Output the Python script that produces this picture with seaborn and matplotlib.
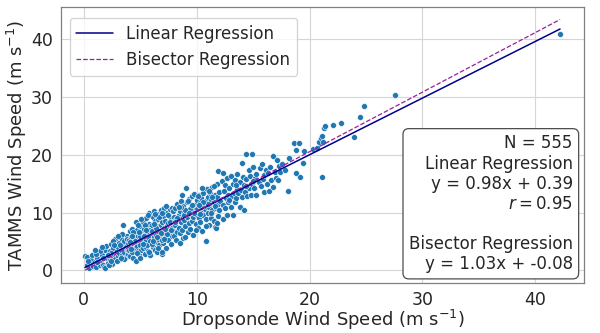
import numpy as np
import pandas as pd
import matplotlib
matplotlib.use('Agg')
import matplotlib.pyplot as plt
import seaborn as sns

# dropsonde (x) vs TAMMS (y) wind speed
pts_a = [(0.1, 2.4), (0.3, 1.0), (0.26, 2.3), (0.5, 0.4), (0.6, 1.8), (0.8, 0.8), (0.9, 2.9), (1.0, 1.5),
         (1.1, 0.5), (1.2, 2.2), (1.3, 3.1), (1.4, 1.0), (1.5, 1.8), (1.6, 2.7), (1.7, 0.9), (1.8, 0.5),
         (1.9, 0.35), (1.9, 3.6), (2.0, 2.1), (2.0, 4.2), (2.1, 1.3), (2.2, 2.8), (2.3, 3.4), (2.3, 1.8),
         (2.4, 4.6), (2.5, 2.4), (2.5, 1.1), (2.6, 3.9), (2.7, 2.9), (2.8, 5.4), (2.8, 1.9), (2.9, 3.3),
         (3.0, 4.1), (3.0, 2.5), (3.1, 4.8), (3.1, 3.0), (3.2, 1.9), (3.3, 5.6), (3.3, 3.6), (3.4, 2.7),
         (3.5, 7.8), (3.5, 4.4), (3.6, 3.2), (3.6, 5.1), (3.7, 2.3), (3.7, 4.0), (3.8, 6.0), (3.8, 3.5),
         (3.9, 4.7), (3.9, 2.8), (1.4, 3.4), (0.7, 2.6), (2.6, 5.0), (3.4, 6.3), (2.2, 0.9), (1.1, 2.9),
         (2.9, 1.6), (3.2, 4.4), (3.0, 5.9), (1.7, 2.2), (2.4, 3.0), (3.6, 1.9), (0.4, 1.6), (1.2, 1.4),
         (1.6, 4.1), (2.1, 2.6), (2.7, 4.4), (3.3, 2.1), (3.8, 5.4), (1.0, 3.6), (2.4, 1.6), (3.9, 3.5)]

pts_b = [(4.0, 5.3), (4.0, 3.6), (4.1, 6.8), (4.1, 2.4), (4.2, 4.5), (4.2, 5.8), (4.3, 3.1), (4.3, 7.2),
         (4.4, 4.9), (4.4, 2.1), (4.5, 6.2), (4.5, 3.8), (4.6, 8.4), (4.65, 1.6), (4.6, 5.5), (4.7, 4.2),
         (4.7, 7.0), (4.8, 3.3), (4.8, 6.0), (4.9, 5.0), (4.9, 2.7), (5.0, 7.6), (5.0, 4.4), (5.1, 6.5),
         (5.1, 3.6), (5.2, 3.9), (5.2, 5.6), (5.2, 8.3), (5.3, 4.8), (5.3, 7.1), (5.4, 2.9), (5.4, 6.1),
         (5.5, 9.1), (5.5, 5.2), (5.5, 4.0), (5.6, 7.5), (5.6, 6.6), (5.7, 3.4), (5.7, 5.8), (5.8, 10.0),
         (5.8, 8.0), (5.8, 4.6), (5.9, 6.9), (5.9, 2.6), (6.0, 5.3), (6.0, 7.8), (6.1, 9.3), (6.1, 4.1),
         (6.1, 6.4), (6.2, 10.2), (6.2, 5.7), (6.3, 3.6), (6.3, 8.5), (6.3, 7.0), (6.4, 4.9), (6.4, 6.1),
         (6.5, 9.7), (6.5, 3.2), (6.5, 7.6), (6.6, 5.5), (6.6, 8.9), (6.7, 6.7), (6.7, 4.3), (6.8, 10.4),
         (6.8, 7.9), (6.8, 5.9), (6.9, 2.9), (6.9, 8.3), (6.95, 3.1), (7.0, 6.4), (7.0, 9.4), (7.0, 4.8),
         (7.1, 7.3), (7.1, 10.7), (7.2, 5.6), (7.2, 8.6), (7.3, 6.9), (7.3, 3.9), (7.4, 9.9), (7.4, 7.7),
         (7.5, 5.2), (7.5, 8.1), (7.6, 10.6), (7.6, 6.5), (7.7, 4.6), (7.7, 9.0), (7.8, 10.7), (7.8, 7.4),
         (7.8, 5.9), (7.9, 8.5), (7.9, 6.8), (5.0, 5.9), (5.6, 4.3), (6.0, 6.8), (6.4, 7.3), (6.9, 5.3),
         (7.4, 6.2), (4.5, 5.0), (4.8, 7.8), (5.3, 5.9), (6.2, 8.0), (6.7, 9.3), (7.2, 7.1), (7.5, 9.6),
         (5.9, 5.0), (4.2, 3.7), (4.1, 4.9), (4.4, 6.6), (4.7, 3.0), (5.0, 2.2), (5.1, 8.9), (5.4, 7.8),
         (5.7, 9.5), (5.8, 3.1), (6.0, 4.6), (6.3, 9.8), (6.6, 3.9), (6.9, 9.9), (7.1, 5.4), (7.3, 11.2),
         (7.6, 8.3), (7.9, 10.2), (4.9, 6.7), (5.5, 6.9), (6.1, 5.0), (6.8, 6.4), (7.7, 7.0), (4.3, 5.9),
         (5.2, 4.6), (6.5, 5.8)]

pts_c = [(8.0, 9.3), (8.0, 6.0), (8.1, 10.8), (8.1, 7.8), (8.2, 5.2), (8.2, 8.9), (8.3, 11.5), (8.3, 6.7),
         (8.4, 9.6), (8.4, 7.4), (8.5, 4.8), (8.5, 6.4), (8.5, 10.3), (8.6, 8.3), (8.6, 12.0), (8.7, 9.0),
         (8.7, 7.0), (8.8, 11.1), (8.8, 5.6), (8.9, 8.7), (8.9, 10.0), (9.0, 7.6), (9.06, 14.2), (9.1, 11.8),
         (9.1, 9.3), (9.2, 6.6), (9.2, 10.5), (9.3, 8.1), (9.3, 12.3), (9.4, 9.8), (9.4, 7.2), (9.5, 11.0),
         (9.5, 10.2), (9.6, 8.6), (9.6, 12.8), (9.7, 9.2), (9.7, 6.1), (9.8, 13.2), (9.8, 10.7), (9.9, 8.0),
         (9.9, 11.4), (10.0, 9.6), (10.0, 12.1), (10.1, 7.3), (10.1, 10.9), (10.2, 13.0), (10.2, 9.0),
         (10.3, 11.6), (10.3, 8.4), (10.4, 12.5), (10.4, 10.1), (10.5, 6.8), (10.5, 11.2), (10.6, 9.5),
         (10.6, 13.4), (10.85, 5.1), (10.7, 10.6), (10.8, 12.0), (10.8, 8.8), (10.9, 11.0), (10.9, 14.0),
         (11.0, 9.9), (11.0, 12.7), (11.1, 7.9), (11.1, 10.9), (11.2, 13.3), (11.2, 11.6), (11.3, 9.1),
         (11.3, 12.2), (11.4, 14.4), (11.4, 10.4), (11.5, 11.9), (11.5, 8.6), (11.6, 7.5), (11.6, 13.0),
         (11.7, 7.4), (11.7, 10.8), (11.8, 12.6), (11.8, 15.0), (11.9, 11.4), (11.9, 9.4), (8.3, 9.1),
         (8.9, 9.5), (9.4, 10.6), (10.0, 10.6), (10.4, 11.0), (11.0, 11.4), (9.0, 10.4), (8.6, 10.9),
         (9.8, 9.9), (10.6, 11.9), (11.4, 12.6), (8.1, 8.4), (8.4, 11.0), (8.7, 13.0), (9.0, 5.7),
         (9.3, 9.9), (9.6, 11.3), (9.9, 6.9), (10.1, 12.9), (10.3, 9.8), (10.5, 14.3), (10.8, 7.6),
         (11.1, 13.8), (11.3, 10.0), (11.6, 11.1), (11.8, 8.2), (9.2, 12.0), (10.2, 11.3), (11.5, 14.6)]

pts_d = [(11.9, 17.2), (12.0, 13.6), (12.0, 10.4), (12.1, 12.0), (12.2, 15.5), (12.3, 16.8), (12.3, 8.8),
         (12.3, 11.3), (12.4, 13.8), (12.5, 14.7), (12.5, 10.8), (12.6, 12.5), (12.7, 9.5), (12.7, 15.9),
         (12.8, 13.1), (12.8, 11.9), (12.9, 14.3), (13.0, 10.9), (13.0, 16.3), (13.1, 12.8), (13.2, 9.5),
         (13.2, 14.9), (13.3, 13.4), (13.4, 11.8), (13.4, 15.6), (13.5, 12.5), (13.6, 14.1), (13.6, 16.6),
         (13.7, 13.3), (13.8, 11.0), (13.8, 15.2), (13.9, 13.9), (14.0, 18.5), (14.0, 12.6), (14.1, 16.2),
         (14.2, 10.4), (14.2, 14.7), (14.3, 13.5), (14.4, 20.1), (14.4, 15.8), (14.5, 12.9), (14.6, 17.3),
         (14.6, 14.3), (14.7, 16.4), (14.8, 13.1), (14.9, 20.1), (14.9, 15.0), (15.0, 17.9), (15.1, 14.2),
         (15.2, 16.0), (15.3, 16.6), (15.3, 13.0), (15.5, 15.3), (15.6, 17.7), (15.7, 14.6), (15.8, 18.4),
         (15.9, 15.8), (16.0, 13.5), (16.0, 16.5), (12.9, 12.2), (13.5, 14.8), (14.4, 14.6), (15.0, 15.4)]

pts_e = [(16.1, 17.4), (16.2, 15.0), (16.3, 16.9), (16.4, 13.8), (16.5, 17.9), (16.6, 15.6), (16.8, 14.5),
         (16.8, 19.8), (16.9, 17.0), (17.0, 16.0), (17.1, 19.1), (17.2, 15.6), (17.3, 18.0), (17.4, 17.0),
         (17.6, 18.4), (17.8, 17.3), (18.1, 13.7), (18.2, 19.4), (18.6, 22.1), (18.8, 20.8), (18.8, 16.9),
         (19.1, 22.1), (19.2, 16.1), (19.4, 18.5), (19.5, 20.7), (20.3, 21.0), (20.7, 21.1), (20.8, 22.2),
         (21.0, 22.9), (21.1, 16.2), (21.1, 23.3), (21.2, 22.2), (21.3, 24.6), (21.4, 25.0), (22.1, 25.2),
         (22.8, 25.5), (23.9, 23.0), (24.5, 26.6), (24.8, 28.5), (27.6, 30.4), (42.2, 40.8)]

n_obs = 555
lin_slope, lin_icpt, r_val = 0.98, 0.39, 0.95
bis_slope, bis_icpt = 1.03, -0.08

df = pd.DataFrame(pts_a + pts_b + pts_c + pts_d + pts_e, columns=['drop', 'tamms'])

sns.set_style('whitegrid')
plt.rcParams['font.family'] = ['DejaVu Sans']

fig, ax = plt.subplots(figsize=(6, 3.33), dpi=100)
fig.subplots_adjust(left=0.102, right=0.973, top=0.979, bottom=0.151)

sns.scatterplot(data=df, x='drop', y='tamms', ax=ax, s=18, color='#1f77b4',
                edgecolor='white', linewidth=0.4, zorder=2)

xx = np.array([df['drop'].min(), df['drop'].max()])
ax.plot(xx, lin_slope * xx + lin_icpt, color='darkblue', lw=1.1, label='Linear Regression', zorder=3)
ax.plot(xx, bis_slope * xx + bis_icpt, color='#9a1f9a', lw=0.9, ls='--', label='Bisector Regression', zorder=3)

ax.set_xlabel('Dropsonde Wind Speed (m s$^{-1}$)', fontsize=13)
ax.set_ylabel('TAMMS Wind Speed (m s$^{-1}$)', fontsize=13)
ax.xaxis.set_label_coords(0.5, -0.09)
ax.yaxis.set_label_coords(-0.062, 0.5)
ax.tick_params(labelsize=12.5, pad=2.5)
ax.set_xticks([0, 10, 20, 30, 40])
ax.set_yticks([0, 10, 20, 30, 40])
for sp in ax.spines.values():
    sp.set_color('0.5')
    sp.set_linewidth(0.9)
ax.grid(color='0.84', lw=0.8)

ax.legend(loc='upper left', fontsize=12, frameon=True, borderpad=0.4, handlelength=2.2,
          bbox_to_anchor=(0.0, 0.99))

txt = (f'N = {n_obs}\nLinear Regression\ny = {lin_slope:.2f}x + {lin_icpt:.2f}\n$r = {r_val:.2f}$\n\n'
       f'Bisector Regression\ny = {bis_slope:.2f}x + {bis_icpt:.2f}')
ax.text(0.979, 0.035, txt, transform=ax.transAxes, ha='right', va='bottom', fontsize=12,
        linespacing=1.15,
        bbox=dict(boxstyle='round,pad=0.35', facecolor='white', edgecolor='0.3', lw=0.9))

fig.savefig('out.png', dpi=100)
